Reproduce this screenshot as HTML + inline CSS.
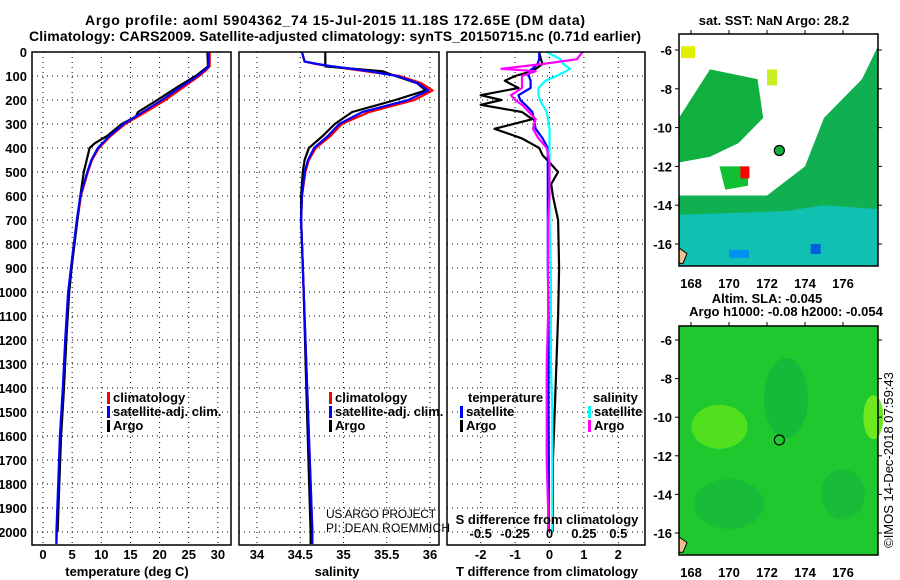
<!DOCTYPE html>
<html><head><meta charset="utf-8"><style>
body{margin:0;background:#fff}
svg{display:block;font-family:"Liberation Sans",sans-serif;font-weight:bold}
</style></head><body>
<svg id="s" width="900" height="580" viewBox="0 0 900 580">
<text x="335" y="25" font-size="14" text-anchor="middle" textLength="500">Argo profile: aoml 5904362_74 15-Jul-2015 11.18S 172.65E (DM data)</text>
<text x="335" y="41" font-size="14" text-anchor="middle" textLength="612">Climatology: CARS2009. Satellite-adjusted climatology: synTS_20150715.nc (0.71d earlier)</text>
<g id="g"></g>
</svg>
<script>
// ---- data ----
const depthsT=[0,60,80,100,150,200,250,300,350,400,450,500,600,700,800,900,1000,1200,1400,1600,1800,2000,2050];
const tempClim=[28.6,28.6,27.8,26.8,23.9,21.0,17.6,14.1,11.6,9.6,8.4,7.7,6.5,5.9,5.3,4.8,4.4,3.9,3.5,3.0,2.7,2.4,2.3];
const tempSat=[28.4,28.4,27.5,26.5,23.4,20.4,17.1,13.8,11.4,9.4,8.3,7.6,6.4,5.8,5.3,4.8,4.3,3.8,3.4,2.9,2.6,2.3,2.3];
const depthsArgo=[0,60,100,150,200,250,270,300,350,380,400,450,500,600,700,800,900,1000,1200,1400,1600,1800,2000];
const tempArgo=[28.2,28.3,26.2,22.8,19.6,16.3,15.9,13.5,11.0,8.9,8.0,7.5,7.0,6.4,5.9,5.4,4.9,4.5,4.0,3.6,3.1,2.8,2.5];
const depthsS=[0,40,50,60,80,100,130,160,200,250,300,350,400,450,500,600,700,800,1000,1400,2000,2050];
const salClim=[34.52,34.55,34.68,34.85,35.25,35.65,35.9,36.03,35.82,35.3,34.98,34.85,34.68,34.6,34.56,34.52,34.51,34.52,34.54,34.58,34.64,34.64];
const salSat=[34.52,34.55,34.7,34.88,35.3,35.62,35.86,35.98,35.75,35.22,34.95,34.82,34.66,34.59,34.55,34.52,34.51,34.52,34.54,34.58,34.64,34.64];
const salArgo=[34.79,34.79,34.79,34.79,35.45,35.6,35.85,35.95,35.6,35.1,34.9,34.76,34.6,34.55,34.53,34.51,34.51,34.52,34.54,34.57,34.62,34.62];
const depthsD=[0,30,50,70,80,100,120,150,180,200,220,250,280,320,360,400,430,460,500,550,600,700,900,1100,1300,1500,1700,1900,2000];
const tDiffArgo=[-0.3,-0.25,-0.2,-0.4,-0.5,-1.0,-1.3,-0.9,-2.0,-1.4,-2.0,-0.8,-0.5,-1.6,-0.8,-0.3,-0.2,0.0,0.25,0.05,0.1,0.25,0.28,0.25,0.2,0.15,0.1,0.1,0.1];
const tDiffSat=[-0.3,-0.3,-0.35,-0.5,-0.6,-0.6,-0.55,-0.55,-0.9,-0.85,-0.7,-0.5,-0.45,-0.4,-0.2,-0.05,-0.05,-0.05,-0.05,-0.05,-0.05,-0.05,-0.05,-0.03,-0.03,-0.03,-0.02,-0.02,-0.02];
const sDiffArgo=[0.24,0.2,-0.05,-0.35,-0.1,-0.2,-0.2,-0.2,-0.28,-0.25,-0.2,-0.15,-0.1,-0.12,-0.08,-0.02,-0.01,0,0,0,0,-0.01,-0.01,-0.01,-0.02,-0.02,-0.02,-0.01,-0.01];
const sDiffSat=[-0.02,0.08,0.1,0.15,0.12,0.05,-0.03,-0.08,-0.08,-0.07,-0.05,-0.02,-0.01,0,0,0,0,0,0,0,0,0,0.01,0.01,0.01,0.02,0.02,0.02,0.02];
const depthTicks=[0,100,200,300,400,500,600,700,800,900,1000,1100,1200,1300,1400,1500,1600,1700,1800,1900,2000];
const tempTicks=[0,5,10,15,20,25,30];
const salTicks=[34,34.5,35,35.5,36];
const salTickLabels=["34","34.5","35","35.5","36"];
const tdTicks=[-2,-1,0,1,2];
const sdTicks=[-0.5,-0.25,0,0.25,0.5];
const sdTickLabels=["-0.5","-0.25","0","0.25","0.5"];
const latTicks=[-6,-8,-10,-12,-14,-16];
const lonTicks=[168,170,172,174,176];

// ---- helpers ----
const NS="http://www.w3.org/2000/svg";
const G=document.getElementById('g');
function el(tag,attrs,parent,text){const e=document.createElementNS(NS,tag);for(const k in attrs)e.setAttribute(k,attrs[k]);if(text!==undefined)e.textContent=text;(parent||G).appendChild(e);return e;}
const yD=d=>52+d*0.24;
const PY0=52,PY1=545;
function panel(name){
  const g=el('g',{});
  
  
  return g;
}
function frame(g,x0,x1){el('rect',{x:x0,y:PY0,width:x1-x0,height:PY1-PY0,fill:'none',stroke:'#000','stroke-width':1.5},g);}
function hgrid(g,x0,x1){depthTicks.forEach(d=>{el('line',{x1:x0,x2:x1,y1:yD(d),y2:yD(d),stroke:'#000','stroke-dasharray':'1,4','stroke-width':1},g);});}
function vgrid(g,xs){xs.forEach(x=>el('line',{x1:x,x2:x,y1:PY0,y2:PY1,stroke:'#000','stroke-dasharray':'1,4','stroke-width':1},g));}
function line(g,xs,ds,fx,color,name){
  const pts=xs.map((v,i)=>fx(v).toFixed(1)+','+yD(ds[i]).toFixed(1)).join(' ');
  const p=el('polyline',{points:pts,fill:'none',stroke:color,'stroke-width':2.2,'stroke-linejoin':'round'},g);
  
  
}
function legend(g,x,y,items,name){
  const lg=el('g',{},g);
  
  
  items.forEach((it,i)=>{
    el('rect',{x:x,y:y+i*14-10,width:3,height:12,fill:it[1]},lg);
    el('text',{x:x+6,y:y+i*14,'font-size':13},lg,it[0]);
  });
}

const dl=el('g',{});


depthTicks.forEach(d=>el('text',{x:27,y:yD(d)+5,'font-size':13,'text-anchor':'end'},dl,String(d)));

// ---- temperature panel ----
const xT=t=>43+t*5.83;
const p1=panel('temperature-panel');
hgrid(p1,32,231);vgrid(p1,tempTicks.map(xT));
line(p1,tempClim,depthsT,xT,'#f00','temp-climatology-line');
line(p1,tempArgo,depthsArgo,xT,'#000','temp-argo-line');
line(p1,tempSat,depthsT,xT,'#00f','temp-satellite-line');
frame(p1,32,231);
tempTicks.forEach(t=>el('text',{x:xT(t),y:559,'font-size':13,'text-anchor':'middle'},p1,String(t)));
el('text',{x:127,y:576,'font-size':13,'text-anchor':'middle'},p1,'temperature (deg C)');
legend(p1,107,402,[['climatology','#f00'],['satellite-adj. clim.','#00f'],['Argo','#000']],'temp-legend');

// ---- salinity panel ----
const xS=s=>257+(s-34)*86.5;
const p2=panel('salinity-panel');
hgrid(p2,239,439);vgrid(p2,salTicks.map(xS));
line(p2,salClim,depthsS,xS,'#f00','sal-climatology-line');
line(p2,salArgo,depthsS,xS,'#000','sal-argo-line');
line(p2,salSat,depthsS,xS,'#00f','sal-satellite-line');
frame(p2,239,439);
salTicks.forEach((s,i)=>el('text',{x:xS(s),y:559,'font-size':13,'text-anchor':'middle'},p2,salTickLabels[i]));
el('text',{x:337,y:576,'font-size':13,'text-anchor':'middle'},p2,'salinity');
legend(p2,329,402,[['climatology','#f00'],['satellite-adj. clim.','#00f'],['Argo','#000']],'sal-legend');
el('text',{x:326,y:518,'font-size':12,'font-weight':'normal',textLength:110},p2,'US ARGO PROJECT');
el('text',{x:326,y:532,'font-size':12,'font-weight':'normal',textLength:124},p2,'PI: DEAN ROEMMICH');

// ---- difference panel ----
const xTd=v=>549.5+v*34.4;
const xSd=v=>549.5+v*137.6;
const p3=panel('difference-panel');
hgrid(p3,447,645);vgrid(p3,tdTicks.map(xTd));
line(p3,tDiffArgo,depthsD,xTd,'#000','tdiff-argo-line');
line(p3,tDiffSat,depthsD,xTd,'#00f','tdiff-satellite-line');
line(p3,sDiffSat,depthsD,xSd,'#0ff','sdiff-satellite-line');
line(p3,sDiffArgo,depthsD,xSd,'#f0f','sdiff-argo-line');
frame(p3,447,645);
tdTicks.forEach(v=>el('text',{x:xTd(v),y:559,'font-size':13,'text-anchor':'middle'},p3,String(v)));
sdTicks.forEach((v,i)=>el('text',{x:xSd(v),y:538,'font-size':13,'text-anchor':'middle'},p3,sdTickLabels[i]));
el('text',{x:547,y:524,'font-size':13,'text-anchor':'middle'},p3,'S difference from climatology');
el('text',{x:547,y:576,'font-size':13,'text-anchor':'middle'},p3,'T difference from climatology');
el('text',{x:468,y:402,'font-size':13},p3,'temperature');
legend(p3,460,416,[['satellite','#00f'],['Argo','#000']],'tdiff-legend');
el('text',{x:593,y:402,'font-size':13},p3,'salinity');
legend(p3,588,416,[['satellite','#0ff'],['Argo','#f0f']],'sdiff-legend');

// ---- maps ----
function mapPanel(y0,y1,latY6,latY16,name,kind){
  const g=el('g',{});
  
  
  const x0=679,x1=878;
  const lx=lon=>691+(lon-168)*19;
  const ly=lat=>latY6+(lat+6)*(latY16-latY6)/-10;
  if(kind==='sst'){
    el('rect',{x:x0,y:y0,width:x1-x0,height:y1-y0,fill:'#fff'},g);
    el('polygon',{points:`${x0},${ly(-9.5)} ${lx(169)},${ly(-7)} ${lx(171.5)},${ly(-7.5)} ${lx(171.8)},${ly(-9.5)} ${lx(170.5)},${ly(-10.8)} ${lx(169)},${ly(-11.5)} ${x0},${ly(-11.8)}`,fill:'#10b040'},g);
    el('polygon',{points:`${lx(169.5)},${ly(-12)} ${lx(171)},${ly(-12)} ${lx(171)},${ly(-13)} ${lx(169.8)},${ly(-13.2)}`,fill:'#10c030'},g);
    el('polygon',{points:`${x1},${ly(-5.8)} ${x1},${y1} ${x0},${y1} ${x0},${ly(-13.5)} ${lx(172)},${ly(-13.5)} ${lx(174)},${ly(-12)} ${lx(175)},${ly(-9.5)} ${lx(177)},${ly(-7.5)}`,fill:'#10b050'},g);
    el('polygon',{points:`${x0},${ly(-14.5)} ${lx(173)},${ly(-14.3)} ${lx(175)},${ly(-14)} ${x1},${ly(-14.2)} ${x1},${y1} ${x0},${y1}`,fill:'#10c0b0'},g);
    el('rect',{x:x0+2,y:ly(-5.8),width:14,height:12,fill:'#e0f000'},g);
    el('rect',{x:lx(172),y:ly(-7),width:10,height:16,fill:'#c8f020'},g);
    el('rect',{x:lx(170.6),y:ly(-12),width:9,height:12,fill:'#f00'},g);
    el('rect',{x:lx(174.3),y:ly(-16),width:10,height:10,fill:'#0060e0'},g);
    el('rect',{x:lx(170),y:ly(-16.3),width:20,height:8,fill:'#0090f0'},g);
  } else {
    el('rect',{x:x0,y:y0,width:x1-x0,height:y1-y0,fill:'#20c830'},g);
    el('ellipse',{cx:lx(169.5),cy:ly(-10.5),rx:28,ry:22,fill:'#50e020'},g);
    el('ellipse',{cx:lx(177.6),cy:ly(-10),rx:10,ry:22,fill:'#70e820'},g);
    el('ellipse',{cx:lx(173),cy:ly(-9),rx:22,ry:40,fill:'#10b040',opacity:0.6},g);
    el('ellipse',{cx:lx(170),cy:ly(-14.5),rx:35,ry:25,fill:'#10b040',opacity:0.5},g);
    el('ellipse',{cx:lx(176),cy:ly(-14),rx:22,ry:25,fill:'#10b040',opacity:0.5},g);
  }
  el('polygon',{points:`${x0},${ly(-16.2)} ${x0+8},${ly(-16.5)} ${x0+4},${ly(-17)} ${x0},${ly(-17)}`,fill:'#f0c090',stroke:'#000'},g);
  el('circle',{cx:lx(172.65),cy:ly(-11.18),r:5,fill:kind==='sst'?'#10b040':'none',stroke:'#000','stroke-width':1.2},g);
  el('rect',{x:x0,y:y0,width:x1-x0,height:y1-y0,fill:'none',stroke:'#000','stroke-width':1.5},g);
  latTicks.forEach(l=>{el('line',{x1:x0,x2:x0-4,y1:ly(l),y2:ly(l),stroke:'#000'},g);el('line',{x1:x1,x2:x1+4,y1:ly(l),y2:ly(l),stroke:'#000'},g);el('text',{x:672,y:ly(l)+5,'font-size':13,'text-anchor':'end'},g,String(l));});
  lonTicks.forEach(l=>{el('line',{x1:lx(l),x2:lx(l),y1:y0,y2:y0-4,stroke:'#000'},g);el('text',{x:lx(l),y:y1+22,'font-size':13,'text-anchor':'middle'},g,String(l));});
  return g;
}
const m1=mapPanel(34,266,50,244,'sst-map','sst');
el('text',{x:774,y:25,'font-size':13,'text-anchor':'middle'},m1,'sat. SST: NaN Argo: 28.2');
const m2=mapPanel(326,555,340,533,'sla-map','sla');
el('text',{x:767,y:303,'font-size':13,'text-anchor':'middle'},m2,'Altim. SLA: -0.045');
el('text',{x:786,y:316,'font-size':13,'text-anchor':'middle'},m2,'Argo h1000: -0.08 h2000: -0.054');
const cr=el('text',{x:0,y:0,'font-size':13,'font-weight':'normal','text-anchor':'middle',transform:'translate(893,460) rotate(-90)'},G,'©IMOS 14-Dec-2018 07:59:43');


</script>
</body></html>
